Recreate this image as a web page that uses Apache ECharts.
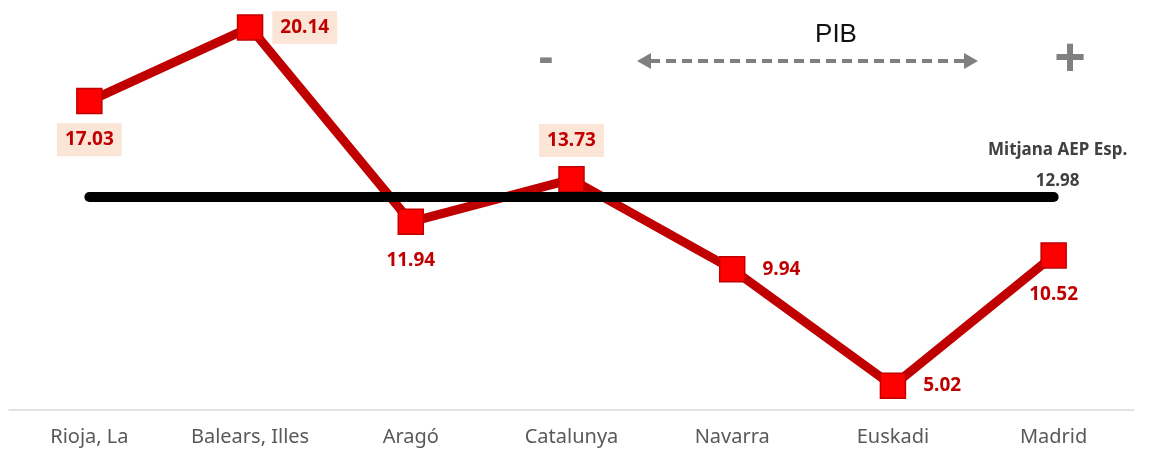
<!DOCTYPE html>
<html>
<head>
<meta charset="utf-8">
<style>
  html, body { margin: 0; padding: 0; background: #fff; }
  #main { width: 1156px; height: 452px; }
</style>
<script src="https://cdn.jsdelivr.net/npm/echarts@6/dist/echarts.min.js"></script>
</head>
<body>
<div id="main"></div>
<script>
var categories = ['Rioja, La', 'Balears, Illes', 'Aragó', 'Catalunya', 'Navarra', 'Euskadi', 'Madrid'];
var values = [17.03, 20.14, 11.94, 13.73, 9.94, 5.02, 10.52];
var meanValue = 12.98;
var meanLabel = 'Mitjana AEP Esp.';

// where each data label sits, and whether it gets the shaded box
var labelPos = ['bottom', 'right', 'bottom', 'top', 'right', 'right', 'bottom'];
var labelBox = [true, true, false, true, false, false, false];

var chart = echarts.init(document.getElementById('main'));

var seriesData = values.map(function (v, i) {
    return {
        value: v,
        label: {
            position: labelPos[i],
            backgroundColor: labelBox[i] ? '#fbe5d6' : 'transparent'
        }
    };
});

var option = {
    animation: false,
    grid: { left: 9, right: 22, top: 7, bottom: 42 },
    xAxis: {
        type: 'category',
        data: categories,
        boundaryGap: true,
        axisLine: { lineStyle: { color: '#d9d9d9', width: 1.5 } },
        axisTick: { show: false },
        axisLabel: {
            color: '#595959',
            fontFamily: 'Noto Sans',
            fontSize: 20,
            margin: 17
        }
    },
    yAxis: {
        type: 'value',
        min: 4,
        max: 21,
        show: false,
        splitLine: { show: false }
    },
    series: [{
        type: 'line',
        data: seriesData,
        symbol: 'rect',
        symbolSize: 25,
        lineStyle: { color: '#c00000', width: 9 },
        itemStyle: { color: '#ff0000', borderColor: '#c00000', borderWidth: 1.5 },
        label: {
            show: true,
            distance: 9,
            padding: [7, 8],
            color: '#c00000',
            fontFamily: 'Noto Sans',
            fontWeight: 'bold',
            fontSize: 19,
            formatter: function (p) { return p.value.toFixed(2); }
        },
        markLine: {
            silent: true,
            z: 5,
            symbol: ['none', 'none'],
            lineStyle: { color: '#000', width: 10, type: 'solid', cap: 'round' },
            label: {
                show: true,
                position: 'insideEndTop',
                align: 'center',
                distance: [-4, 0],
                color: '#404040',
                fontFamily: 'Noto Sans',
                fontWeight: 'bold',
                fontSize: 17,
                lineHeight: 31,
                formatter: function () { return meanLabel + '\n' + meanValue.toFixed(2); }
            },
            data: [[
                { coord: [0, meanValue] },
                { coord: [categories.length - 1, meanValue] }
            ]]
        }
    }],
    graphic: [
        {
            type: 'text', x: 836, y: 35,
            style: { text: 'PIB', fill: '#111', font: '26px "Liberation Sans"', align: 'center', verticalAlign: 'middle' }
        },
        {
            type: 'text', x: 546, y: 59,
            style: { text: '-', fill: '#808080', font: 'bold 46px "Liberation Sans"', align: 'center', verticalAlign: 'middle' }
        },
        {
            type: 'text', x: 1070, y: 60,
            style: { text: '+', fill: '#808080', font: 'bold 54px "Liberation Sans"', align: 'center', verticalAlign: 'middle' }
        },
        {
            type: 'line',
            shape: { x1: 650, y1: 61, x2: 965, y2: 61 },
            style: { stroke: '#808080', lineWidth: 4, lineDash: [10, 6] }
        },
        {
            type: 'polygon',
            shape: { points: [[637, 61], [651, 53], [651, 69]] },
            style: { fill: '#808080' }
        },
        {
            type: 'polygon',
            shape: { points: [[978, 61], [964, 53], [964, 69]] },
            style: { fill: '#808080' }
        }
    ]
};

chart.setOption(option);
</script>
</body>
</html>
